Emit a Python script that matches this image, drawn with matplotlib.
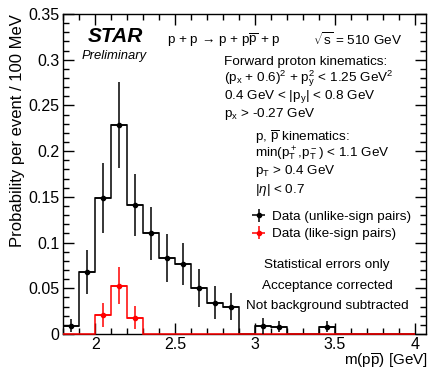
import numpy as np
import matplotlib
matplotlib.use("Agg")
import matplotlib.pyplot as plt
from matplotlib.ticker import MultipleLocator, FormatStrFormatter

plt.rcParams["font.family"] = ["Liberation Sans", "DejaVu Sans"]
plt.rcParams["mathtext.fontset"] = "custom"
plt.rcParams["mathtext.rm"] = "Liberation Sans"
plt.rcParams["mathtext.it"] = "Liberation Sans:italic"
plt.rcParams["mathtext.bf"] = "Liberation Sans:bold"
plt.rcParams["mathtext.sf"] = "Liberation Sans"

# bin edges of m(p pbar) [GeV], 100 MeV bins
edges = [1.8, 1.9, 2.0, 2.1, 2.2, 2.3, 2.4, 2.5, 2.6, 2.7, 2.8, 2.9,
         3.0, 3.1, 3.2, 3.3, 3.4, 3.5, 3.6, 3.7, 3.8, 3.9, 4.0]

# unlike-sign pairs
unlike = [0.009, 0.068, 0.149, 0.229, 0.141, 0.110, 0.083, 0.077, 0.050, 0.034, 0.030,
          0.0, 0.009, 0.008, 0.0, 0.0, 0.008, 0.0, 0.0, 0.0, 0.0, 0.0]
unlike_err = [0.007, 0.024, 0.038, 0.047, 0.034, 0.029, 0.026, 0.023, 0.021, 0.018, 0.015,
              0.0, 0.009, 0.006, 0.0, 0.0, 0.006, 0.0, 0.0, 0.0, 0.0, 0.0]

# like-sign pairs
like = [0.0, 0.0, 0.021, 0.053, 0.018, 0.0, 0.0, 0.0, 0.0, 0.0, 0.0,
        0.0, 0.0, 0.0, 0.0, 0.0, 0.0, 0.0, 0.0, 0.0, 0.0, 0.0]
like_err = [0.0, 0.0, 0.013, 0.020, 0.013, 0.0, 0.0, 0.0, 0.0, 0.0, 0.0,
            0.0, 0.0, 0.0, 0.0, 0.0, 0.0, 0.0, 0.0, 0.0, 0.0, 0.0]

W, H = 433, 370
fig = plt.figure(figsize=(W / 100, H / 100), dpi=100)
ax = fig.add_axes([63.3 / W, 1 - 334 / H, (426 - 63.3) / W, (334 - 14) / H])


def px(x, y):
    return x / W, 1 - y / H


edges_a = np.array(edges)
centers = 0.5 * (edges_a[:-1] + edges_a[1:])
half = 0.5 * np.diff(edges_a)

# histograms
ax.stairs(unlike, edges, color="black", lw=1.1, zorder=2)
ax.stairs(like, edges, color="red", lw=1.1, zorder=3, clip_on=False)

# points with error bars (only non-empty bins)
u = np.array(unlike)
m = u > 0
h_un = ax.errorbar(centers[m], u[m], yerr=np.array(unlike_err)[m], xerr=half[m],
                   fmt="o", color="black", ms=3, lw=1.1, capsize=0, zorder=4)
l = np.array(like)
m2 = l > 0
h_lk = ax.errorbar(centers[m2], l[m2], yerr=np.array(like_err)[m2], xerr=half[m2],
                   fmt="o", color="red", ms=3, lw=1.1, capsize=0, zorder=4)

ax.set_xlim(1.8, 4.07)
ax.set_ylim(0, 0.35)

ax.xaxis.set_major_locator(MultipleLocator(0.5))
ax.xaxis.set_minor_locator(MultipleLocator(0.1))
ax.yaxis.set_major_locator(MultipleLocator(0.05))
ax.yaxis.set_minor_locator(MultipleLocator(0.01))
ax.xaxis.set_major_formatter(FormatStrFormatter("%g"))
ax.yaxis.set_major_formatter(FormatStrFormatter("%g"))
ax.tick_params(which="both", direction="in", top=True, right=True, labelsize=11.5, width=1)
ax.tick_params(which="major", length=8, pad=3)
ax.tick_params(axis="x", which="major", pad=2)
ax.tick_params(which="minor", length=4)
for s in ax.spines.values():
    s.set_linewidth(1)

ax.set_ylabel("Probability per event / 100 MeV", fontsize=12, loc="top")
ax.yaxis.set_label_coords(-0.105, 1.0)
ax.set_xlabel(r"m(p$\overline{\mathrm{p}}$) [GeV]", fontsize=11, loc="right")
ax.xaxis.set_label_coords(1.005, -0.055)

# header
fig.text(*px(115, 37), "STAR", fontsize=15, fontweight="bold", fontstyle="italic",
         ha="center", va="center")
fig.text(*px(114.5, 56), "Preliminary", fontsize=9.4, fontstyle="italic",
         ha="center", va="center")
fig.text(*px(167, 40), r"p + p → p + p$\overline{\mathrm{p}}$ + p", fontsize=9.7,
         ha="left", va="center")
fig.text(*px(313, 40), r"$\sqrt{\mathrm{s}}$ = 510 GeV", fontsize=9.7, ha="left", va="center")

fs = 9.7
lines1 = [
    (62, "Forward proton kinematics:"),
    (79, r"(p$_\mathrm{x}$ + 0.6)$^2$ + p$_\mathrm{y}^2$ < 1.25 GeV$^2$"),
    (97, r"0.4 GeV < |p$_\mathrm{y}$| < 0.8 GeV"),
    (114, r"p$_\mathrm{x}$ > -0.27 GeV"),
]
for y, t in lines1:
    fig.text(*px(224, y), t, fontsize=fs, ha="left", va="center")

lines2 = [
    (137, r"p, $\overline{\mathrm{p}}$ kinematics:"),
    (154, r"min(p$_\mathrm{T}^+$,p$_\mathrm{T}^-$) < 1.1 GeV"),
    (171, r"p$_\mathrm{T}$ > 0.4 GeV"),
    (190, r"|$\eta$| < 0.7"),
]
for y, t in lines2:
    fig.text(*px(255, y), t, fontsize=fs, ha="left", va="center")

for y, t in [(265, "Statistical errors only"), (286, "Acceptance corrected"),
             (306, "Not background subtracted")]:
    fig.text(*px(327, y), t, fontsize=fs, ha="center", va="center")

leg = ax.legend([h_un, h_lk], ["Data (unlike-sign pairs)", "Data (like-sign pairs)"],
                loc="center left", bbox_to_anchor=((250 - 63.3) / 362.7, (334 - 225.5) / 320),
                frameon=False, fontsize=fs, handlelength=1.3, handletextpad=0.3,
                labelspacing=0.35, borderpad=0, borderaxespad=0)

fig.savefig("out.png", dpi=100)
